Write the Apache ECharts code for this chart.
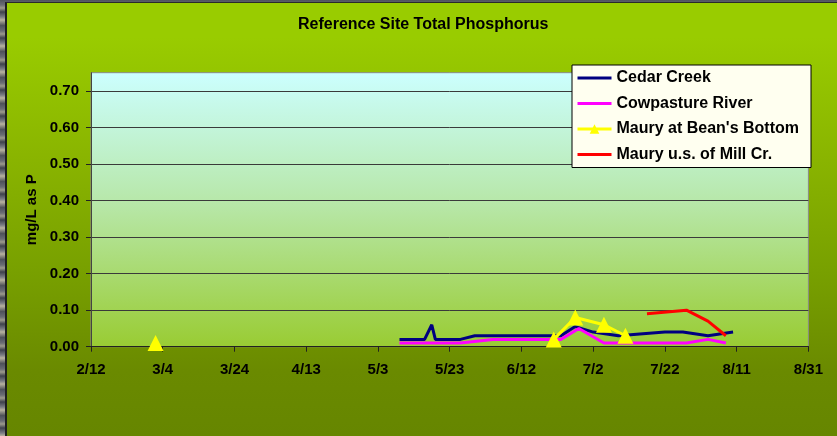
<!DOCTYPE html>
<html><head><meta charset="utf-8">
<script src="https://cdn.jsdelivr.net/npm/echarts@6/dist/echarts.min.js"></script>
<style>
html,body{margin:0;padding:0;width:837px;height:436px;overflow:hidden;}
body{background:repeating-linear-gradient(to bottom,#50535e 0px,#6a6c74 5px,#9c9a8c 8px,#3e414c 12px,#7a7c84 17px,#b8b2a0 20px,#464953 26px);}
#bg{position:absolute;left:5px;top:2px;right:0;bottom:0;border-left:2px solid #1e1e1e;border-top:1px solid #2a2a2a;
background:linear-gradient(to bottom,#99cc00 0%,#99cc00 8%,#8ab500 35%,#78a000 62%,#6a8a00 85%,#668600 100%);}
#chart{position:absolute;left:0;top:0;width:837px;height:436px;}
</style></head>
<body><div id="bg"></div><div id="chart"></div>
<script>
// ---- data (dates are M/D, year 2007) ----
const xTickLabels = ['2/12','3/4','3/24','4/13','5/3','5/23','6/12','7/2','7/22','8/11','8/31'];
const yTickLabels = ['0.00','0.10','0.20','0.30','0.40','0.50','0.60','0.70'];
const seriesNames = ['Cedar Creek','Cowpasture River',"Maury at Bean's Bottom",'Maury u.s. of Mill Cr.'];
const seriesColors = ['#000080','#ff00ff','#ffff00','#ff0000'];

const cedarDates  = ['5/9','5/16','5/18','5/19','5/26','5/30','6/6','6/13','6/23','6/27','7/2','7/9','7/15','7/22','7/27','8/3','8/10'];
const cedarValues = [0.02, 0.02, 0.06, 0.02, 0.02, 0.03, 0.03, 0.03, 0.03, 0.055, 0.04, 0.03, 0.035, 0.04, 0.04, 0.03, 0.04];

const cowDates  = ['5/9','5/26','6/4','6/23','6/28','7/5','7/28','8/3','8/8'];
const cowValues = [0.01, 0.01, 0.02, 0.02, 0.05, 0.01, 0.01, 0.02, 0.01];

const beanDates  = ['3/2','5/9','6/21','6/27','7/5','7/11'];
const beanValues = [0.01, null, 0.02, 0.08, 0.06, 0.03];

const millDates  = ['7/17','7/28','8/3','8/8'];
const millValues = [0.09, 0.10, 0.07, 0.03];

// ---- helpers ----
const YEAR = 2007;
const ORIGIN = Date.UTC(YEAR, 1, 12);
function toDay(md){ const p = md.split('/'); return Math.round((Date.UTC(YEAR, +p[0]-1, +p[1]) - ORIGIN)/86400000); }
function pairs(dates, vals){ return dates.map((d,i)=>[toDay(d), vals[i]==null ? '-' : vals[i]]); }
const xTickDays = xTickLabels.map(toDay);
const yTickVals = yTickLabels.map(Number);

const font = {fontFamily:'Liberation Sans, Arial, sans-serif', fontWeight:'bold', color:'#000'};

const legendData = seriesNames.map((n,i)=> i===2
  ? {name:n, lineStyle:{width:3,color:seriesColors[i]}}
  : {name:n, lineStyle:{width:3,color:seriesColors[i]}, itemStyle:{color:'rgba(0,0,0,0)',borderWidth:0,opacity:0}});

const chart = echarts.init(document.getElementById('chart'), null, {renderer:'canvas'});
chart.setOption({
  animation:false,
  backgroundColor:'transparent',
  title:{text:'Reference Site Total Phosphorus', left:298, top:17, padding:0,
    textStyle:Object.assign({fontSize:16}, font)},
  legend:{orient:'vertical', left:572, top:65, padding:[5,12,5,4], itemGap:9.5,
    itemWidth:34, itemHeight:12, backgroundColor:'#FFFFF0', borderColor:'#000', borderWidth:1,
    textStyle:Object.assign({fontSize:16}, font), data:legendData},
  grid:{left:91, right:28.6, top:72.7, bottom:89.3, show:true, borderColor:'#8a8a8a', borderWidth:1,
    backgroundColor:{type:'linear',x:0,y:0,x2:0,y2:1,colorStops:[{offset:0,color:'#ccffff'},{offset:0.5,color:'#b6e6a4'},{offset:1,color:'#99cc33'}]}},
  xAxis:{type:'value', min:0, max:200, interval:20,
    axisLine:{lineStyle:{color:'#222',width:1}},
    axisTick:{show:true, inside:false, length:5, lineStyle:{color:'#222'}},
    splitLine:{show:false},
    axisLabel:Object.assign({fontSize:15, margin:16,
      formatter:function(v){ const i = xTickDays.indexOf(Math.round(v)); return i>=0 ? xTickLabels[i] : ''; }}, font)},
  yAxis:{type:'value', min:0, max:0.75, interval:0.1,
    name:'mg/L as P', nameLocation:'middle', nameGap:52, nameRotate:90,
    nameTextStyle:Object.assign({fontSize:15}, font),
    axisLine:{show:true, lineStyle:{color:'#444',width:1}},
    axisTick:{show:true, length:5, lineStyle:{color:'#222'}, customValues:yTickVals},
    splitLine:{show:true, lineStyle:{color:'#3a3a3a',width:1}},
    axisLabel:Object.assign({fontSize:15, margin:12, customValues:yTickVals,
      formatter:function(v){ return v.toFixed(2); }}, font)},
  series:[
    {name:seriesNames[0], type:'line', data:pairs(cedarDates,cedarValues), symbol:'none', color:seriesColors[0],
      lineStyle:{width:3,color:seriesColors[0]}},
    {name:seriesNames[1], type:'line', data:pairs(cowDates,cowValues), symbol:'none', color:seriesColors[1],
      lineStyle:{width:3,color:seriesColors[1]}},
    {name:seriesNames[2], type:'line', data:pairs(beanDates,beanValues), symbol:'triangle', symbolSize:16,
      showAllSymbol:true, connectNulls:false, color:seriesColors[2], itemStyle:{color:seriesColors[2]},
      lineStyle:{width:3,color:seriesColors[2]}},
    {name:seriesNames[3], type:'line', data:pairs(millDates,millValues), symbol:'none', color:seriesColors[3],
      lineStyle:{width:3,color:seriesColors[3]}}
  ]
});
</script>
</body></html>
